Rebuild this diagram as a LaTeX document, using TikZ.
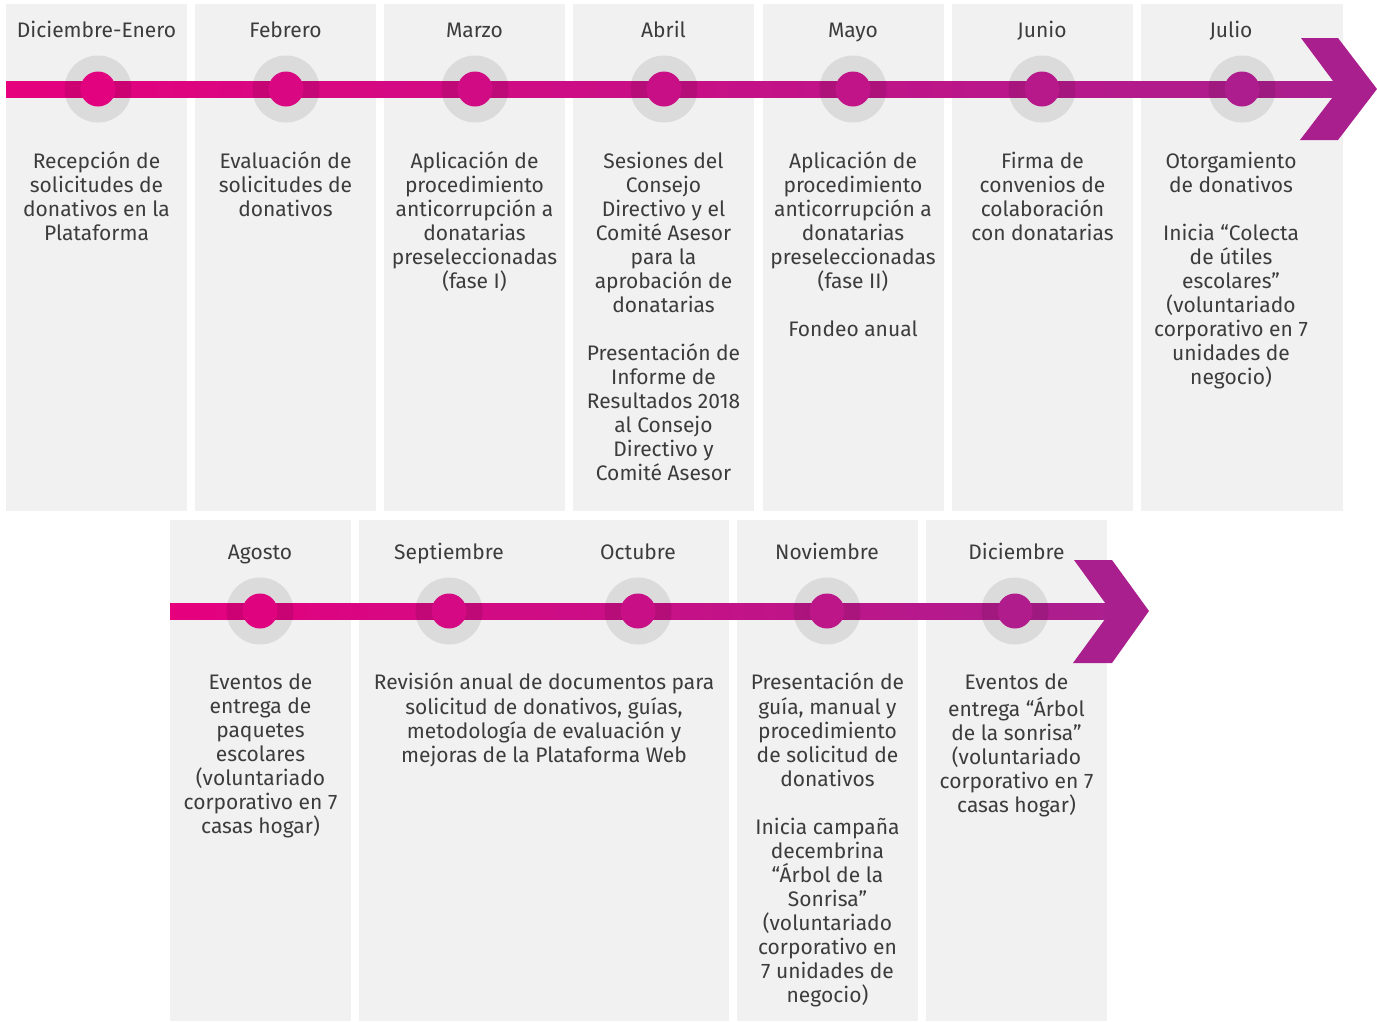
\documentclass[tikz,border=0pt]{standalone}
\usepackage{fontspec}
\setmainfont{Fira Sans}
\definecolor{pinkA}{HTML}{E6007E}
\definecolor{purpleB}{HTML}{AA1F8E}
\definecolor{panelbg}{HTML}{F1F1F1}
\definecolor{txt}{HTML}{3C3C3C}
\tikzset{
  panel/.style={fill=panelbg, draw=none},
  month/.style={anchor=base, inner sep=0pt, text=txt, font=\fontsize{21}{24}\selectfont},
  desc/.style={anchor=north, inner sep=0pt, text=txt, align=center, font=\fontsize{21}{24}\selectfont},
  halo/.style={circle, minimum size=67pt, inner sep=0pt, fill=black, fill opacity=0.09, draw=none},
  dot/.style={circle, minimum size=35pt, inner sep=0pt, draw=none},
}
\begin{document}
\begin{tikzpicture}[x=1pt,y=-1pt]
\useasboundingbox (0,0) rectangle (1377,1021);
% panels top
\foreach \a/\b in {6/187,195/376,384/565,573/754,763/944,952/1133,1141/1343}
  \fill[panel] (\a,4) rectangle (\b,511);
% panels bottom
\foreach \a/\b in {170/351,359/729,737/918,926/1107}
  \fill[panel] (\a,520) rectangle (\b,1021);

% top timeline
\coordinate (ts) at (6,89);
\coordinate (te) at (1340,89);
\shade[left color=pinkA, right color=purpleB] (6,81) rectangle (1340,97);
\fill[purpleB] (1301,38) -- (1338,38) -- (1377,89) -- (1338,140) -- (1300,140) -- (1339,89) -- cycle;

% bottom timeline
\coordinate (bs) at (170,611);
\coordinate (be) at (1112,611);
\shade[left color=pinkA, right color=purpleB] (170,603) rectangle (1112,619);
\fill[purpleB] (1074,560) -- (1112,560) -- (1149,611) -- (1112,663) -- (1073,663) -- (1111,611) -- cycle;

% halos and dots top
\foreach \n/\x/\t in {h1/98/7,h2/286/21,h3/475/35,h4/664/49,h5/853/64,h6/1042/78,h7/1242/93}{
  \node[halo] (\n) at (\x,89) {};
  \node[dot, fill=purpleB!\t!pinkA] (\n d) at (\x,89) {};
}
% halos and dots bottom
\foreach \n/\x/\t in {k1/260/10,k2/449/30,k3/638/50,k4/827/70,k5/1015/90}{
  \node[halo] (\n) at (\x,611) {};
  \node[dot, fill=purpleB!\t!pinkA] (\n d) at (\x,611) {};
}

% month labels top
\node[month] (m1) at (96.5,37) {Diciembre-Enero};
\node[month] (m2) at (285.5,37) {Febrero};
\node[month] (m3) at (474.5,37) {Marzo};
\node[month] (m4) at (663.5,37) {Abril};
\node[month] (m5) at (853,37) {Mayo};
\node[month] (m6) at (1042,37) {Junio};
\node[month] (m7) at (1231,37) {Julio};
% month labels bottom
\node[month] (n1) at (260,559) {Agosto};
\node[month] (n2) at (449,559) {Septiembre};
\node[month] (n3) at (638,559) {Octubre};
\node[month] (n4) at (827,559) {Noviembre};
\node[month] (n5) at (1016.5,559) {Diciembre};

% descriptions top
\node[desc] (d1) at (96.5,151.5) {\strut Recepción de\\solicitudes de\\donativos en la\\Plataforma};
\node[desc] (d2) at (285.5,151.5) {\strut Evaluación de\\solicitudes de\\donativos};
\node[desc] (d3) at (474.5,151.5) {\strut Aplicación de\\procedimiento\\anticorrupción a\\donatarias\\preseleccionadas\\(fase I)};
\node[desc] (d4) at (663.5,151.5) {\strut Sesiones del\\Consejo\\Directivo y el\\Comité Asesor\\para la\\aprobación de\\donatarias\\[24pt]Presentación de\\Informe de\\Resultados 2018\\al Consejo\\Directivo y\\Comité Asesor};
\node[desc] (d5) at (853,151.5) {\strut Aplicación de\\procedimiento\\anticorrupción a\\donatarias\\preseleccionadas\\(fase II)\\[24pt]Fondeo anual};
\node[desc] (d6) at (1042.5,151.5) {\strut Firma de\\convenios de\\colaboración\\con donatarias};
\node[desc] (d7) at (1231,151.5) {\strut Otorgamiento\\de donativos\\[24pt]Inicia “Colecta\\de útiles\\escolares”\\(voluntariado\\corporativo en 7\\unidades de\\negocio)};

% descriptions bottom
\node[desc] (e1) at (260.5,672.5) {\strut Eventos de\\entrega de\\paquetes\\escolares\\(voluntariado\\corporativo en 7\\casas hogar)};
\node[desc] (e2) at (544,672.5) {\strut Revisión anual de documentos para\\solicitud de donativos, guías,\\metodología de evaluación y\\mejoras de la Plataforma Web};
\node[desc] (e3) at (827.5,672.5) {\strut Presentación de\\guía, manual y\\procedimiento\\de solicitud de\\donativos\\[24pt]Inicia campaña\\decembrina\\“Árbol de la\\Sonrisa”\\(voluntariado\\corporativo en\\7 unidades de\\negocio)};
\node[desc] (e4) at (1016.5,672.5) {\strut Eventos de\\entrega “Árbol\\de la sonrisa”\\(voluntariado\\corporativo en 7\\casas hogar)};
\end{tikzpicture}
\end{document}
